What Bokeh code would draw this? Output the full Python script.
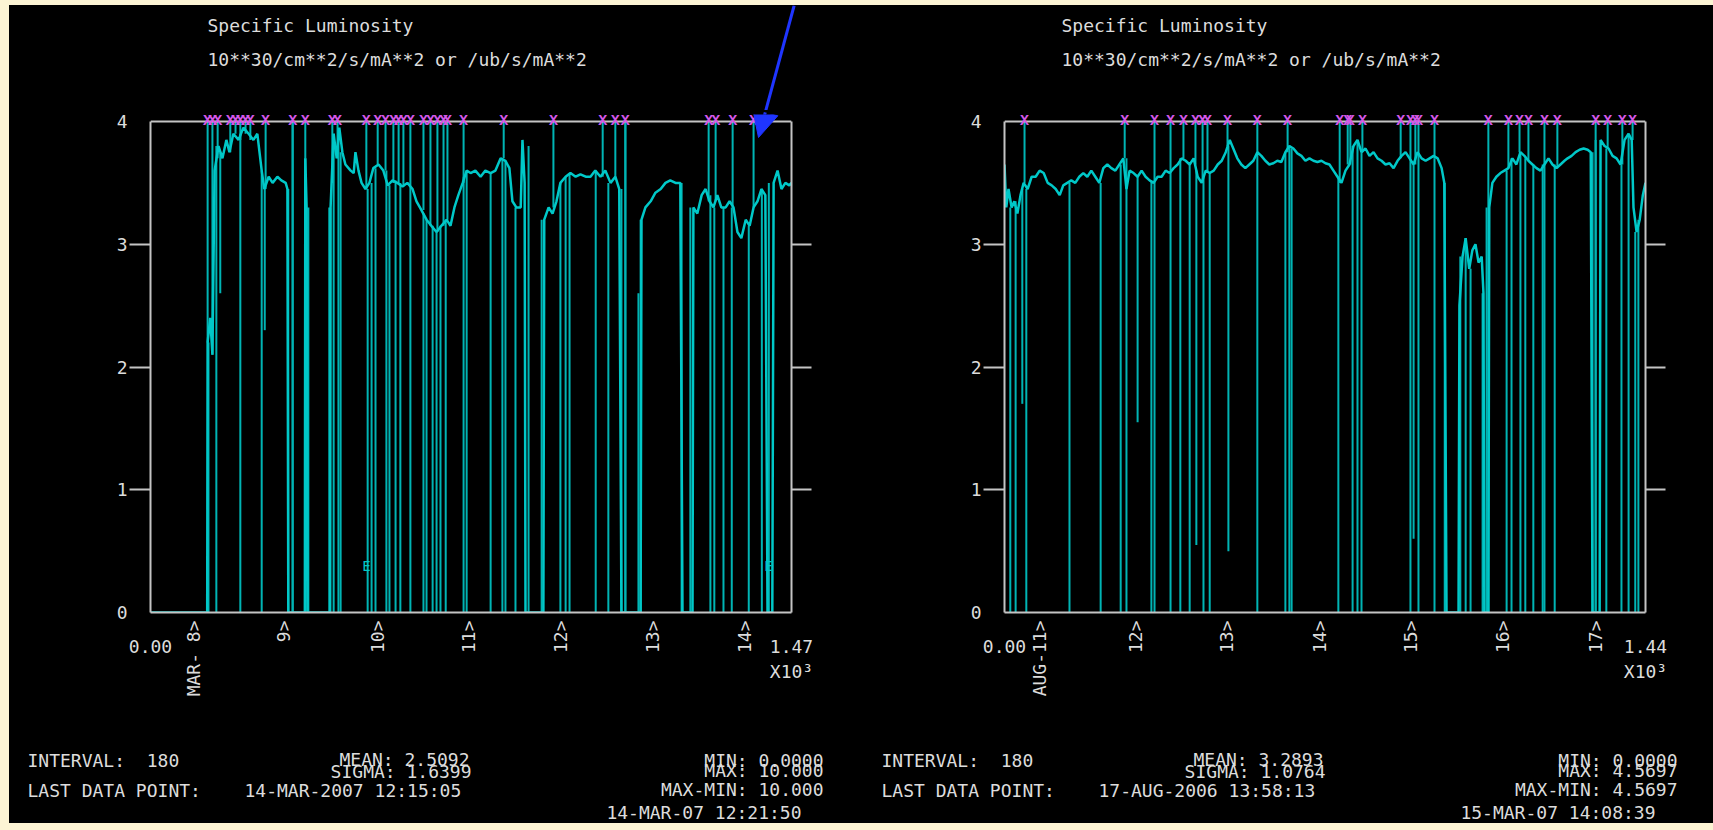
import math
from bokeh.plotting import figure
from bokeh.models import (Range1d, LinearAxis, FixedTicker, Label, LabelSet, Span,
                          ColumnDataSource, Arrow, NormalHead)
from bokeh.layouts import row, column
from bokeh.embed import file_html
from bokeh.resources import INLINE
from bokeh.core.properties import value

# ---------------- data ----------------
TITLE = "Specific Luminosity"
UNITS = "10**30/cm**2/s/mA**2 or /ub/s/mA**2"
Y_TICKS = [0, 1, 2, 3, 4]
Y_TICK_MARKS = [1, 2, 3]

# left panel
L_X_MAX = 1470
L_X_END = "1.47\nX10\u00b3"
L_TICKS = [99, 305, 521, 729, 940, 1151, 1362]
L_TICK_LABELS = ["MAR- 8>", "9>", "10>", "11>", "12>", "13>", "14>"]
L_TRACE = [
    (0, 0), (130, 0), (131, 2.2), (137, 2.4), (142, 2.1), (147, 3.6), (156, 3.8), (165, 3.7),
    (174, 3.85), (181, 3.75), (190, 3.9), (202, 3.85), (213, 3.95), (225, 3.9), (236, 3.85),
    (245, 3.9), (255, 3.6), (261, 3.45), (271, 3.55), (280, 3.5), (291, 3.55), (300, 3.52),
    (310, 3.5), (314, 3.45), (316, 0), (354, 0), (355, 3.7), (358, 3.3), (360, 0), (412, 0),
    (413, 3.3), (420, 3.9), (427, 3.7), (433, 3.95), (440, 3.75), (447, 3.65), (459, 3.6),
    (466, 3.58), (470, 3.75), (477, 3.6), (484, 3.5), (493, 3.45), (502, 3.5), (511, 3.62),
    (523, 3.65), (534, 3.6), (544, 3.48), (555, 3.52), (566, 3.5), (578, 3.47), (589, 3.5),
    (601, 3.45), (610, 3.35), (621, 3.28), (633, 3.2), (644, 3.15), (656, 3.1), (667, 3.15),
    (679, 3.2), (688, 3.15), (697, 3.3), (706, 3.4), (716, 3.5), (725, 3.6), (734, 3.58),
    (745, 3.6), (757, 3.55), (768, 3.6), (780, 3.58), (791, 3.6), (803, 3.7), (814, 3.68),
    (823, 3.62), (830, 3.35), (839, 3.3), (849, 3.3), (853, 3.85), (858, 3.5), (860, 0),
    (901, 0), (903, 3.2), (913, 3.3), (922, 3.25), (931, 3.35), (940, 3.5), (952, 3.55),
    (963, 3.58), (975, 3.55), (986, 3.57), (998, 3.55), (1009, 3.55), (1020, 3.6), (1032, 3.55),
    (1043, 3.6), (1055, 3.5), (1066, 3.55), (1075, 3.45), (1080, 0), (1124, 0), (1126, 3.2),
    (1135, 3.3), (1147, 3.35), (1158, 3.42), (1170, 3.45), (1181, 3.5), (1192, 3.52),
    (1204, 3.5), (1215, 3.5), (1220, 0), (1243, 0), (1245, 3.3), (1254, 3.25), (1264, 3.4),
    (1273, 3.45), (1282, 3.35), (1291, 3.3), (1300, 3.4), (1309, 3.3), (1319, 3.3), (1328, 3.35),
    (1337, 3.3), (1346, 3.1), (1355, 3.05), (1365, 3.2), (1374, 3.15), (1383, 3.3), (1392, 3.35),
    (1401, 3.45), (1410, 3.4), (1415, 0), (1426, 0), (1429, 3.5), (1438, 3.6), (1447, 3.45),
    (1456, 3.5), (1465, 3.48), (1470, 3.5),
]
# vertical dropouts: (x, top, bottom)
L_DROPS = [
    (133, 2.2, 0), (151, 3.8, 0), (160, 3.75, 2.6), (206, 3.9, 0), (255, 3.6, 0), (262, 3.45, 2.3),
    (316, 3.45, 0), (326, 4.0, 0), (355, 3.7, 0), (362, 3.3, 0), (410, 3.3, 0), (420, 3.9, 0),
    (431, 3.9, 0), (436, 3.75, 0), (498, 3.45, 0), (507, 3.5, 0), (516, 3.62, 0), (541, 3.6, 0),
    (548, 3.48, 0), (562, 3.52, 0), (573, 3.5, 0), (596, 3.45, 0), (626, 3.25, 0), (633, 3.2, 0),
    (647, 3.15, 0), (656, 3.1, 0), (665, 3.15, 0), (677, 3.2, 0), (718, 3.55, 0), (725, 3.6, 0),
    (780, 3.58, 0), (807, 3.7, 0), (814, 3.68, 0), (837, 3.3, 0), (867, 3.8, 0), (897, 3.2, 0),
    (940, 3.5, 0), (952, 3.55, 0), (961, 3.58, 0), (1021, 3.6, 0), (1050, 3.5, 0), (1080, 3.45, 0),
    (1089, 4.0, 0), (1119, 2.6, 0), (1124, 3.2, 0), (1218, 3.5, 0), (1238, 3.3, 0), (1284, 3.4, 0),
    (1293, 3.3, 0), (1314, 3.3, 0), (1333, 3.3, 0), (1372, 3.15, 0), (1402, 3.45, 0), (1418, 3.5, 0),
]
# off-scale (>4) points: (x, base)
L_OFFSCALE = [
    (131, 2.2), (142, 2.1), (154, 3.7), (183, 3.75), (195, 3.9), (206, 3.85), (218, 3.9),
    (229, 3.85), (264, 3.45), (326, 0), (355, 3.7), (417, 3.5), (429, 3.7), (495, 3.45),
    (521, 3.65), (539, 3.6), (557, 3.5), (569, 3.5), (580, 3.47), (596, 3.45), (626, 3.28),
    (642, 3.15), (658, 3.1), (672, 3.15), (681, 3.2), (718, 3.5), (810, 3.7), (924, 3.3),
    (1037, 3.55), (1066, 3.55), (1089, 0), (1280, 3.35), (1296, 3.35), (1335, 3.3), (1383, 3.3),
]
L_ERRORS = [(495, 0.38), (1417, 0.38)]
L_INTERVAL = "180"
L_LAST_POINT = "14-MAR-2007 12:15:05"
L_MEAN, L_SIGMA = "2.5092", "1.6399"
L_MIN, L_MAX, L_RANGE = "0.0000", "10.000", "10.000"
L_STAMP = "14-MAR-07 12:21:50"

# right panel
R_X_MAX = 1440
R_X_END = "1.44\nX10\u00b3"
R_TICKS = [78, 294, 499, 707, 911, 1119, 1327]
R_TICK_LABELS = ["AUG-11>", "12>", "13>", "14>", "15>", "16>", "17>"]
R_TRACE = [
    (0, 3.65), (4, 3.3), (9, 3.45), (16, 3.3), (22, 3.35), (29, 3.25), (36, 3.4), (43, 3.5),
    (52, 3.45), (61, 3.55), (70, 3.55), (79, 3.6), (88, 3.58), (97, 3.5), (106, 3.48),
    (115, 3.45), (124, 3.4), (132, 3.48), (141, 3.5), (150, 3.52), (159, 3.5), (168, 3.55),
    (177, 3.58), (186, 3.55), (195, 3.6), (204, 3.55), (213, 3.5), (222, 3.62), (231, 3.65),
    (240, 3.62), (249, 3.6), (258, 3.65), (267, 3.7), (274, 3.45), (281, 3.6), (290, 3.58),
    (299, 3.55), (308, 3.6), (317, 3.55), (326, 3.52), (335, 3.5), (344, 3.55), (353, 3.55),
    (362, 3.6), (371, 3.58), (380, 3.62), (389, 3.65), (398, 3.7), (407, 3.68), (416, 3.65),
    (425, 3.7), (434, 3.55), (443, 3.5), (452, 3.6), (461, 3.58), (470, 3.6), (479, 3.65),
    (488, 3.68), (497, 3.75), (506, 3.85), (514, 3.78), (523, 3.7), (532, 3.65), (541, 3.62),
    (550, 3.65), (559, 3.68), (568, 3.75), (577, 3.72), (586, 3.68), (595, 3.65), (604, 3.66),
    (613, 3.68), (622, 3.67), (631, 3.75), (640, 3.8), (649, 3.78), (658, 3.74), (667, 3.72),
    (676, 3.68), (685, 3.7), (694, 3.68), (703, 3.67), (712, 3.68), (721, 3.66), (730, 3.65),
    (739, 3.6), (748, 3.55), (757, 3.5), (766, 3.6), (775, 3.65), (784, 3.8), (793, 3.85),
    (802, 3.75), (811, 3.78), (820, 3.72), (829, 3.75), (838, 3.7), (847, 3.68), (856, 3.65),
    (865, 3.66), (874, 3.62), (883, 3.68), (892, 3.72), (901, 3.75), (910, 3.7), (919, 3.65),
    (928, 3.75), (937, 3.7), (946, 3.68), (955, 3.7), (964, 3.72), (973, 3.7), (982, 3.62),
    (988, 3.5), (993, 0), (1020, 0), (1022, 2.5), (1029, 2.9), (1036, 3.05), (1044, 2.8),
    (1051, 2.95), (1058, 3.0), (1065, 2.85), (1072, 2.9), (1076, 2.6), (1078, 0), (1087, 0),
    (1089, 3.3), (1096, 3.5), (1105, 3.55), (1114, 3.58), (1123, 3.6), (1132, 3.62), (1141, 3.7),
    (1150, 3.65), (1159, 3.75), (1168, 3.72), (1177, 3.68), (1186, 3.65), (1195, 3.62),
    (1204, 3.6), (1213, 3.65), (1222, 3.7), (1231, 3.65), (1240, 3.62), (1249, 3.65),
    (1258, 3.68), (1265, 3.7), (1274, 3.72), (1283, 3.75), (1292, 3.77), (1301, 3.78),
    (1310, 3.77), (1317, 3.75), (1321, 0), (1337, 0), (1339, 3.85), (1348, 3.8), (1357, 3.78),
    (1366, 3.72), (1375, 3.7), (1384, 3.65), (1393, 3.85), (1402, 3.9), (1409, 3.85),
    (1413, 3.3), (1420, 3.1), (1427, 3.2), (1434, 3.4), (1440, 3.5),
]
R_DROPS = [
    (13, 3.3, 0), (25, 3.35, 0), (40, 3.45, 1.7), (49, 3.45, 0), (146, 3.5, 0), (216, 3.5, 0),
    (261, 3.65, 0), (274, 3.7, 0), (299, 3.55, 1.55), (330, 3.52, 0), (337, 3.5, 0), (373, 3.6, 0),
    (395, 3.7, 0), (416, 3.65, 0), (431, 3.6, 0.55), (447, 3.55, 0), (461, 3.58, 0), (503, 3.8, 0.5),
    (568, 3.75, 0), (631, 3.75, 0), (640, 3.8, 0), (645, 3.78, 0), (750, 3.55, 0), (782, 3.8, 0),
    (793, 3.85, 0), (802, 3.75, 0), (912, 3.7, 0), (919, 3.65, 0.6), (930, 3.75, 0), (966, 3.7, 0),
    (989, 3.5, 0), (1024, 2.9, 0), (1036, 3.05, 0), (1047, 2.8, 0), (1074, 2.6, 0), (1083, 3.3, 0),
    (1128, 3.6, 0), (1139, 3.7, 0), (1159, 3.75, 0), (1170, 3.7, 0), (1188, 3.65, 0), (1209, 3.65, 0),
    (1213, 3.65, 0), (1236, 3.65, 0), (1321, 3.75, 0), (1328, 3.85, 0), (1352, 3.78, 0),
    (1386, 3.65, 0), (1402, 3.9, 0), (1417, 3.1, 0), (1424, 3.2, 0),
]
R_OFFSCALE = [
    (45, 3.5), (270, 3.7), (337, 3.5), (373, 3.6), (402, 3.7), (429, 3.65), (445, 3.5),
    (456, 3.58), (501, 3.8), (568, 3.75), (636, 3.75), (753, 3.5), (771, 3.65), (777, 3.65),
    (804, 3.75), (890, 3.7), (912, 3.7), (923, 3.65), (930, 3.75), (966, 3.7), (1087, 0),
    (1132, 3.62), (1157, 3.75), (1177, 3.68), (1213, 3.65), (1242, 3.62), (1328, 0),
    (1355, 3.78), (1388, 3.65), (1411, 3.85),
]
R_ERRORS = []
R_INTERVAL = "180"
R_LAST_POINT = "17-AUG-2006 13:58:13"
R_MEAN, R_SIGMA = "3.2893", "1.0764"
R_MIN, R_MAX, R_RANGE = "0.0000", "4.5697", "4.5697"
R_STAMP = "15-MAR-07 14:08:39"

# ---------------- style / layout ----------------
CYAN = "#00c8c8"
CYAN_DIM = "#00b4b4"
MAGENTA = "#d458e8"
GRAY = "#c4c4c4"
TXT = "#dcdcdc"
BLUE = "#1f35ff"
CREAM = "#fcf4d4"
FONT = "DejaVu Sans Mono"
FS = "18px"
NBSP = "\u00a0"

PAGE_TOP = 5
HEAD_BOTTOM = 110          # page y where header ends / main plot starts
FRAME_TOP_PAGE = 114       # top of plotting frame (a bit above the y=4 line)
Y4_PAGE = 121
FRAME_BOTTOM_PAGE = 612
MAIN_BOTTOM = 720
FOOT_BOTTOM = 823
FRAME_W = 641
PX_PER_UNIT = (FRAME_BOTTOM_PAGE - Y4_PAGE) / 4.0
Y_TOP = (FRAME_BOTTOM_PAGE - FRAME_TOP_PAGE) / PX_PER_UNIT


def blank_fig(width, height, xr, yr):
    f = figure(width=width, height=height, x_range=Range1d(*xr), y_range=Range1d(*yr),
               title=None, output_backend="svg", toolbar_location=None,
               x_axis_location=None, y_axis_location=None, min_border=0, frame_align=False,
               background_fill_color="black", border_fill_color="black", outline_line_color=None)
    f.grid.visible = False
    return f


def put_text(f, x, y, s, align="left", color=TXT, size=FS):
    f.text(x=[x], y=[y], text=[s], text_align=align, text_baseline="middle",
           text_color=color, text_font=value(FONT), text_font_size=value(size))


def build_panel(col_left, col_right, frame_left, xmax, ticks, tick_labels, x_end, trace, drops,
                offscale, errors, interval, last_point, mean, sigma, vmin, vmax, vrange, stamp,
                arrow=False):
    width = col_right - col_left
    border_left = frame_left - col_left
    border_right = width - border_left - FRAME_W

    def dx(px):   # page px -> data x of the main plot
        return (px - frame_left) * xmax / FRAME_W

    def dy(py):   # page py -> data y of the main plot
        return (FRAME_BOTTOM_PAGE - py) / PX_PER_UNIT

    # ---------- header ----------
    head = blank_fig(width, HEAD_BOTTOM - PAGE_TOP, (col_left, col_right), (HEAD_BOTTOM, PAGE_TOP))
    put_text(head, frame_left + 57, 25, TITLE)
    put_text(head, frame_left + 57, 59, UNITS)

    # ---------- main plot ----------
    p = figure(width=width, height=MAIN_BOTTOM - HEAD_BOTTOM, x_range=Range1d(0, xmax),
               y_range=Range1d(0, Y_TOP), title=None, output_backend="svg",
               toolbar_location=None, x_axis_location=None, y_axis_location=None,
               min_border_left=border_left, min_border_right=border_right,
               min_border_top=FRAME_TOP_PAGE - HEAD_BOTTOM,
               min_border_bottom=MAIN_BOTTOM - FRAME_BOTTOM_PAGE, frame_align=False,
               background_fill_color="black", border_fill_color="black",
               outline_line_color=None)
    p.grid.visible = False

    common = dict(minor_tick_out=0, minor_tick_in=0, major_tick_in=0,
                  major_label_text_color=TXT, major_label_text_font=FONT,
                  major_label_text_font_size=FS)
    marks = dict(major_tick_in=0, minor_tick_out=0, minor_tick_in=0, axis_line_color=GRAY,
                 axis_line_width=2, major_tick_line_color=GRAY, major_tick_line_width=2,
                 major_label_standoff=0, major_label_text_color=None,
                 major_label_text_font_size="8px")
    # left: tick marks
    lt = LinearAxis(ticker=FixedTicker(ticks=Y_TICK_MARKS), bounds=(0, 4), major_tick_out=21, **marks)
    p.add_layout(lt, "left")
    # left: tick labels
    ll = LinearAxis(ticker=FixedTicker(ticks=Y_TICKS), axis_line_color=None,
                    major_tick_line_color=None, major_tick_out=0, major_label_standoff=2, **common)
    p.add_layout(ll, "left")
    # right: tick marks only
    rt = LinearAxis(ticker=FixedTicker(ticks=Y_TICK_MARKS), bounds=(0, 4), major_tick_out=20, **marks)
    p.add_layout(rt, "right")
    # bottom: day labels (rotated, reading upwards)
    bx = LinearAxis(ticker=FixedTicker(ticks=ticks),
                    major_label_overrides={t: s for t, s in zip(ticks, tick_labels)},
                    major_label_orientation=math.pi / 2, axis_line_color=GRAY, axis_line_width=2,
                    major_tick_line_color=None, major_tick_out=0, major_label_standoff=8, **common)
    p.add_layout(bx, "below")
    # bottom: range end labels
    ex = LinearAxis(ticker=FixedTicker(ticks=[0, xmax]),
                    major_label_overrides={0: "0.00", xmax: x_end},
                    axis_line_color=None, major_tick_line_color=None, major_tick_out=0,
                    major_label_standoff=-64, **common)
    p.add_layout(ex, "below")
    # top frame line
    p.add_layout(Span(location=4, dimension="width", line_color=GRAY, line_width=2))

    # data
    p.segment(x0=[d[0] for d in drops], y0=[d[1] for d in drops],
              x1=[d[0] for d in drops], y1=[d[2] for d in drops],
              line_color=CYAN_DIM, line_width=2)
    p.segment(x0=[o[0] for o in offscale], y0=[o[1] for o in offscale],
              x1=[o[0] for o in offscale], y1=[4 for o in offscale],
              line_color=CYAN_DIM, line_width=2)
    p.line([a for a, b in trace], [b for a, b in trace], line_color=CYAN, line_width=2.5)

    src = ColumnDataSource(dict(x=[o[0] for o in offscale], y=[4] * len(offscale),
                                t=["X"] * len(offscale)))
    p.add_layout(LabelSet(x="x", y="y", text="t", source=src, text_align="center",
                          text_baseline="middle", text_color=MAGENTA,
                          text_font=value("Liberation Mono"), text_font_size="15px",
                          text_font_style="bold"))
    for ex_, ey_ in errors:
        p.add_layout(Label(x=ex_, y=ey_, text="E", text_align="center", text_baseline="middle",
                           text_color=CYAN, text_font=FONT, text_font_size="14px"))

    # ---------- footer ----------
    foot = blank_fig(width, FOOT_BOTTOM - MAIN_BOTTOM, (col_left, col_right),
                     (FOOT_BOTTOM, MAIN_BOTTOM))
    fl = frame_left
    put_text(foot, fl - 123, 760, "INTERVAL:" + NBSP * 2 + interval)
    put_text(foot, fl - 123, 790, "LAST DATA POINT:")
    put_text(foot, fl + 94, 790, last_point)
    put_text(foot, fl + 319, 759, "MEAN: " + mean, "right")
    put_text(foot, fl + 321, 771, "SIGMA: " + sigma, "right")
    put_text(foot, fl + 673, 760, "MIN: " + vmin, "right")
    put_text(foot, fl + 673, 770, "MAX: " + vmax, "right")
    put_text(foot, fl + 673, 789, "MAX-MIN: " + vrange, "right")
    put_text(foot, fl + 651, 812, stamp, "right")

    if arrow:
        # blue pointer arrow (annotation of the slide)
        cross_x = 795 - 37 * HEAD_BOTTOM / 137
        head.line([795 - 37 * PAGE_TOP / 137, cross_x], [PAGE_TOP, HEAD_BOTTOM],
                  line_color=BLUE, line_width=3)
        p.add_layout(Arrow(end=NormalHead(size=26, fill_color=BLUE, line_color=BLUE),
                           x_start=dx(cross_x), y_start=dy(HEAD_BOTTOM), x_end=dx(758), y_end=dy(137),
                           line_color=BLUE, line_width=3))
    return column(head, p, foot)


left = build_panel(9, 863, 150, L_X_MAX, L_TICKS, L_TICK_LABELS, L_X_END, L_TRACE, L_DROPS,
                   L_OFFSCALE, L_ERRORS, L_INTERVAL, L_LAST_POINT, L_MEAN, L_SIGMA, L_MIN, L_MAX,
                   L_RANGE, L_STAMP, arrow=True)
right = build_panel(863, 1712, 1004, R_X_MAX, R_TICKS, R_TICK_LABELS, R_X_END, R_TRACE, R_DROPS,
                    R_OFFSCALE, R_ERRORS, R_INTERVAL, R_LAST_POINT, R_MEAN, R_SIGMA, R_MIN, R_MAX,
                    R_RANGE, R_STAMP)

layout = row(left, right)
html = file_html(layout, INLINE, title="Specific Luminosity")
css = ("<style>html, body { background: linear-gradient(to right, %s 9px, transparent 9px), "
       "linear-gradient(to bottom, %s 5px, #000 5px, #000 823px, %s 823px) !important; "
       "background-color: %s !important; } "
       "body { padding: 5px 0 0 9px !important; margin: 0 !important; box-sizing: border-box; "
       "overflow: hidden; }</style>") % (CREAM, CREAM, CREAM, CREAM)
html = html.replace("</head>", css + "</head>", 1)
open("out.html", "w").write(html)
